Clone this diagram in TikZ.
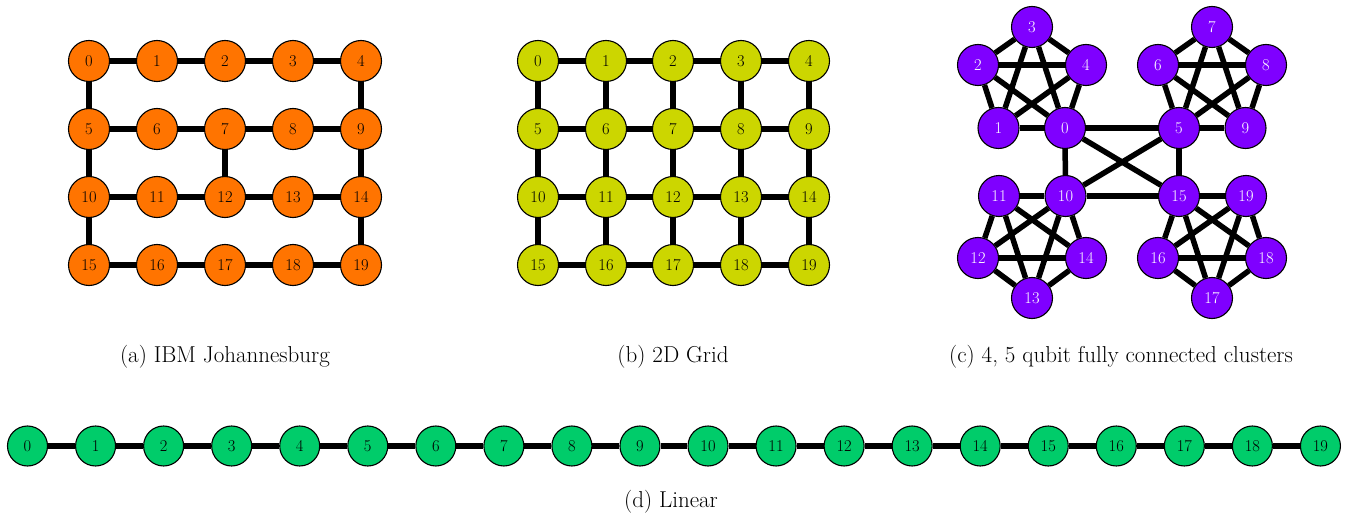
\documentclass[tikz,border=0pt]{standalone}
\usepackage{fontspec}
\usetikzlibrary{backgrounds}
\definecolor{orangeq}{HTML}{FF7400}
\definecolor{yellowq}{HTML}{CCD600}
\definecolor{purpleq}{HTML}{7F00FF}
\definecolor{greenq}{HTML}{00CC6A}
\tikzset{
  qb/.style={circle,draw=black,line width=1.1pt,minimum size=41pt,inner sep=0pt,font=\fontsize{16.5}{16.5}\selectfont},
  qa/.style={qb,fill=orangeq},
  qgrid/.style={qb,fill=yellowq},
  qc/.style={qb,fill=purpleq,text=white},
  qd/.style={qb,fill=greenq,minimum size=40pt},
  link/.style={line width=5.5pt},
  captxt/.style={anchor=base,font=\fontsize{23}{23}\selectfont,inner sep=0pt}
}
\begin{document}
\begin{tikzpicture}[x=1pt,y=-1pt]
\useasboundingbox (0,0) rectangle (1353,516);
% ---------- (a)
\foreach \r/\y in {0/61,1/129,2/197,3/265}{
  \foreach \c/\x in {0/89,1/157,2/225,3/293,4/361}{
    \pgfmathtruncatemacro{\n}{5*\r+\c}
    \node[qa] (a\n) at (\x,\y) {\n};
  }
}
% ---------- (b)
\foreach \r/\y in {0/61,1/129,2/197,3/265}{
  \foreach \c/\x in {0/538,1/606,2/673,3/741,4/809}{
    \pgfmathtruncatemacro{\n}{5*\r+\c}
    \node[qgrid] (b\n) at (\x,\y) {\n};
  }
}
% ---------- (c)
\node[qc] (c3) at (1032,27) {3};
\node[qc] (c2) at (978,65) {2};
\node[qc] (c4) at (1086,65) {4};
\node[qc] (c1) at (998.5,128) {1};
\node[qc] (c0) at (1065,128) {0};
\node[qc] (c7) at (1212,27) {7};
\node[qc] (c6) at (1158,65) {6};
\node[qc] (c8) at (1266,65) {8};
\node[qc] (c5) at (1179,128) {5};
\node[qc] (c9) at (1245.5,128) {9};
\node[qc] (c11) at (999,196) {11};
\node[qc] (c10) at (1065.5,196) {10};
\node[qc] (c12) at (978,258) {12};
\node[qc] (c14) at (1086,258) {14};
\node[qc] (c13) at (1032,298) {13};
\node[qc] (c15) at (1179,196) {15};
\node[qc] (c19) at (1246,196) {19};
\node[qc] (c16) at (1158,258) {16};
\node[qc] (c18) at (1266,258) {18};
\node[qc] (c17) at (1212,298) {17};
% ---------- (d)
\foreach \i in {0,...,19}{
  \node[qd] (d\i) at ({27.5+68.05*\i},446) {\i};
}
% ---------- edges (drawn behind)
\begin{scope}[on background layer]
  % (a),(b) rows
  \foreach \r in {0,5,10,15}{
    \foreach \k in {0,1,2,3}{
      \pgfmathtruncatemacro{\p}{\r+\k}
      \pgfmathtruncatemacro{\q}{\r+\k+1}
      \draw[link] (a\p) -- (a\q);
      \draw[link] (b\p) -- (b\q);
    }
  }
  % (a) verticals
  \foreach \p/\q in {0/5,4/9,5/10,7/12,9/14,10/15,14/19}{
    \draw[link] (a\p) -- (a\q);
  }
  % (b) verticals
  \foreach \p in {0,...,14}{
    \pgfmathtruncatemacro{\q}{\p+5}
    \draw[link] (b\p) -- (b\q);
  }
  % (c) clusters
  \foreach \cl in {{0,1,2,3,4},{5,6,7,8,9},{10,11,12,13,14},{15,16,17,18,19}}{
    \foreach \u [count=\iu] in \cl{
      \foreach \v [count=\iv] in \cl{
        \ifnum\iu<\iv \draw[link] (c\u) -- (c\v); \fi
      }
    }
  }
  \foreach \p/\q in {0/5,0/10,0/15,5/10,5/15,10/15}{
    \draw[link] (c\p) -- (c\q);
  }
  % (d)
  \foreach \i in {0,...,18}{
    \pgfmathtruncatemacro{\j}{\i+1}
    \draw[link] (d\i) -- (d\j);
  }
\end{scope}
% captions
\node[captxt] (capa) at (225,362) {(a) IBM Johannesburg};
\node[captxt] (capb) at (673,362) {(b) 2D Grid};
\node[captxt] (capc) at (1121,362) {(c) 4, 5 qubit fully connected clusters};
\node[captxt] (capd) at (671,507) {(d) Linear};
\end{tikzpicture}
\end{document}
